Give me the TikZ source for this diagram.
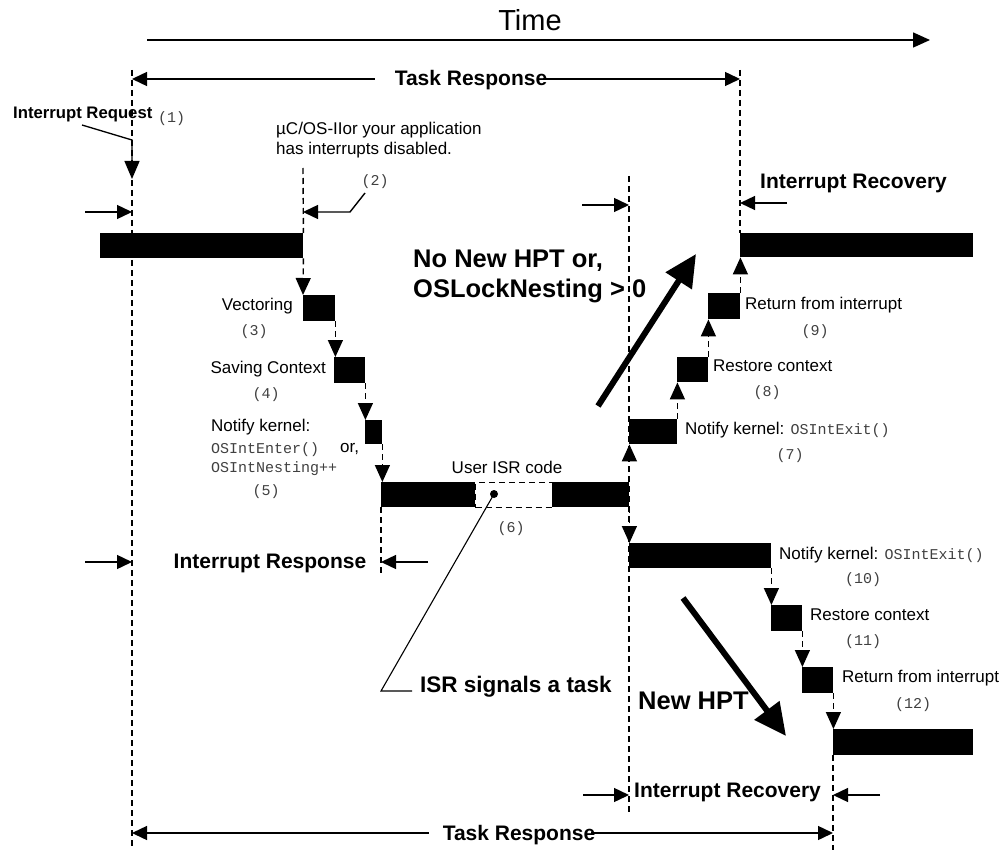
\documentclass[tikz,border=0pt]{standalone}
\usepackage{fontspec}
\setmainfont{Liberation Sans}
\setmonofont{Liberation Mono}
\usetikzlibrary{arrows.meta}

\begin{document}
\begin{tikzpicture}[x=1pt,y=-1pt,
  blk/.style={fill=black, draw=none, inner sep=0pt, anchor=north west},
  guide/.style={line width=1.4pt, dash pattern=on 6pt off 4pt},
  flow/.style={line width=1.4pt, dash pattern=on 6pt off 4pt, -{Triangle[length=17pt,width=15pt]}},
  dim/.style={line width=1.4pt, -{Triangle[length=15pt,width=14pt]}},
  big/.style={line width=6pt, -{Triangle[length=32pt,width=30pt]}},
  lead/.style={line width=1.1pt},
  lbl/.style={inner sep=0pt, font=\fontsize{17}{20}\selectfont},
  num/.style={inner sep=0pt, font=\fontsize{15}{18}\selectfont\ttfamily, text=black!75},
  hd/.style={inner sep=0pt, font=\fontsize{21}{24}\selectfont\bfseries},
  huge/.style={inner sep=0pt, font=\fontsize{25.5}{30}\selectfont\bfseries},
]
\useasboundingbox (0,0) rectangle (1003,850);

% ---------- time axis ----------
\node[inner sep=0pt, font=\fontsize{29}{32}\selectfont] (time) at (530,20) {Time};
\coordinate (t0) at (147,40);
\coordinate (t1) at (930,40);
\draw[line width=1.5pt, -{Triangle[length=17pt,width=15pt]}] (t0) -- (t1);

% ---------- vertical guides ----------
\coordinate (g1t) at (132,70);  \coordinate (g1b) at (132,850);
\coordinate (g2t) at (303,168);
\coordinate (g3t) at (740,70);
\coordinate (g4t) at (629,176); \coordinate (g4b) at (629,812);
\coordinate (g5b) at (381,577);
\coordinate (g6b) at (833,850);

% ---------- execution blocks ----------
\node[blk, minimum width=203pt, minimum height=25pt] (A) at (100,233) {};
\node[blk, minimum width=32pt, minimum height=26pt] (vec) at (303,295) {};
\node[blk, minimum width=31pt, minimum height=26pt] (sav) at (334,357) {};
\node[blk, minimum width=17pt, minimum height=24pt] (ntf) at (365,420) {};
\node[blk, minimum width=94pt, minimum height=25pt] (isr1) at (381,482) {};
\node[guide, draw, inner sep=0pt, anchor=north west, minimum width=77pt, minimum height=25pt] (isrd) at (475,482) {};
\node[blk, minimum width=77pt, minimum height=25pt] (isr2) at (552,482) {};

\node[blk, minimum width=48pt, minimum height=25pt] (ntf7) at (629,419) {};
\node[blk, minimum width=31pt, minimum height=25pt] (rst8) at (677,357) {};
\node[blk, minimum width=32pt, minimum height=26pt] (ret9) at (708,293) {};
\node[blk, minimum width=233pt, minimum height=24pt] (B) at (740,233) {};

\node[blk, minimum width=142pt, minimum height=25pt] (bar10) at (629,543) {};
\node[blk, minimum width=31pt, minimum height=26pt] (rst11) at (771,605) {};
\node[blk, minimum width=31pt, minimum height=26pt] (ret12) at (802,667) {};
\node[blk, minimum width=140pt, minimum height=26pt] (C) at (833,729) {};

% guides
\draw[guide] (g1t) -- (g1b);
\draw[guide] (g2t) -- (A.north east);
\draw[guide] (g3t) -- (B.north west);
\draw[guide] (g4t) -- (g4b);
\draw[guide] (isr1.south west) -- (g5b);
\draw[guide] (C.south west) -- (g6b);

% ---------- flow arrows ----------
\draw[flow] (A.south east) -- (vec.north west);
\draw[flow] (vec.south east) -- (vec.south east |- sav.north);
\draw[flow] (sav.south east) -- (sav.south east |- ntf.north);
\draw[flow] (ntf.south east) -- (ntf.south east |- isr1.north);

\draw[flow] (isr2.north east) -- (isr2.north east |- ntf7.south);
\draw[flow] (ntf7.north east) -- (ntf7.north east |- rst8.south);
\draw[flow] (rst8.north east) -- (rst8.north east |- ret9.south);
\draw[flow] (ret9.north east) -- (ret9.north east |- B.south);

\draw[flow] (isr2.south east) -- (isr2.south east |- bar10.north);
\draw[flow] (bar10.south east) -- (bar10.south east |- rst11.north);
\draw[flow] (rst11.south east) -- (rst11.south east |- ret12.north);
\draw[flow] (ret12.south east) -- (ret12.south east |- C.north);

% ---------- task response (top) ----------
\node[hd] (trtop) at (471,80) {Task Response};
\draw[dim] (trtop.west) ++(-20,-1) coordinate (trtl) -- (trtl -| g1t);
\draw[dim] (trtop.east) ++(-4,-1) coordinate (trtr) -- (trtr -| g3t);

% ---------- interrupt request ----------
\node[hd, font=\fontsize{16.7}{20}\selectfont\bfseries, anchor=mid west] (irq) at (13,116) {Interrupt Request};
\node[num, anchor=mid west] (n1) at (158,120) {(1)};
\coordinate (irqa) at (82,125);
\coordinate (irqb) at (132,140);
\coordinate (irqc) at (132,179);
\draw[lead, line width=1.3pt, -{Triangle[length=18pt,width=15pt]}] (irqa) -- (irqb) -- (irqc);

\coordinate (dl1) at (85,212);
\draw[dim] (dl1) -- (dl1 -| g1t);

\node[lbl, anchor=mid west] (dis1) at (276,132) {µC/OS-IIor your application};
\node[lbl, anchor=mid west] (dis2) at (276,152) {has interrupts disabled.};
\node[num] (n2) at (375,182) {(2)};
\coordinate (l2a) at (365,193);
\coordinate (l2b) at (350,212);
\draw[lead, line width=1.4pt, -{Triangle[length=15pt,width=14pt]}] (l2a) -- (l2b) -- (l2b -| g2t);

% ---------- left-hand step labels ----------
\node[lbl, anchor=mid east] (lvec) at (293,308) {Vectoring};
\node[num] (n3) at (254,332) {(3)};
\node[lbl, anchor=mid east] (lsav) at (326,371) {Saving Context};
\node[num] (n4) at (266,395) {(4)};
\node[lbl, anchor=mid west] (lntf) at (211,429) {Notify kernel:};
\node[num, anchor=mid west] (lent) at (211,451) {OSIntEnter()};
\node[lbl, anchor=mid west] (lor) at (340,450) {or,};
\node[num, anchor=mid west] (lnest) at (211,470) {OSIntNesting++};
\node[num] (n5) at (266,492) {(5)};

% ---------- user ISR ----------
\node[lbl] (luser) at (507,467) {User ISR code};
\node[num] (n6) at (511,529) {(6)};
\fill (494,494) circle (4pt) coordinate (sig);
\coordinate (siga) at (381,691);
\coordinate (sigb) at (412,691);
\draw[lead] (sig) -- (siga) -- (sigb);
\node[hd, font=\fontsize{22.5}{26}\selectfont\bfseries, anchor=mid west] (lsig) at (420,690) {ISR signals a task};

% ---------- interrupt response ----------
\node[hd] (iresp) at (270,563) {Interrupt Response};
\coordinate (irl) at (85,562);
\coordinate (irr) at (428,562);
\draw[dim] (irl) -- (irl -| g1t);
\draw[dim] (irr) -- (irr -| g5b);

% ---------- no new HPT path ----------
\node[huge, anchor=mid west] (nohpt1) at (413,265) {No New HPT or,};
\node[huge, anchor=mid west] (nohpt2) at (413,295) {OSLockNesting > 0};
\coordinate (bu0) at (598,406);
\coordinate (bu1) at (696,254);
\draw[big] (bu0) -- (bu1);

\node[lbl, anchor=mid west] (l7) at (685,432) {Notify kernel: \texttt{\color{black!75}\fontsize{15}{18}\selectfont OSIntExit()}};
\node[num] (n7) at (790,456) {(7)};
\node[lbl, anchor=mid west] (l8) at (713,369) {Restore context};
\node[num] (n8) at (767,393) {(8)};
\node[lbl, anchor=mid west] (l9) at (745,307) {Return from interrupt};
\node[num] (n9) at (815,332) {(9)};

\node[hd, anchor=mid west] (irec1) at (760,186) {Interrupt Recovery};
\coordinate (ra1) at (582,205);
\coordinate (ra2) at (787,203);
\draw[dim] (ra1) -- (ra1 -| g4t);
\draw[dim] (ra2) -- (ra2 -| g3t);

% ---------- new HPT path ----------
\node[huge, anchor=mid west] (nhpt) at (638,707) {New HPT};
\coordinate (bd0) at (683,598);
\coordinate (bd1) at (786,736);
\draw[big] (bd0) -- (bd1);

\node[lbl, anchor=mid west] (l10) at (779,557) {Notify kernel: \texttt{\color{black!75}\fontsize{15}{18}\selectfont OSIntExit()}};
\node[num] (n10) at (863,580) {(10)};
\node[lbl, anchor=mid west] (l11) at (810,618) {Restore context};
\node[num] (n11) at (863,642) {(11)};
\node[lbl, anchor=mid west] (l12) at (842,680) {Return from interrupt};
\node[num] (n12) at (913,705) {(12)};

% ---------- bottom dimensions ----------
\node[hd, anchor=mid west] (irec2) at (634,795) {Interrupt Recovery};
\coordinate (rb1) at (583,795);
\coordinate (rb2) at (880,795);
\draw[dim] (rb1) -- (rb1 -| g4t);
\draw[dim] (rb2) -- (rb2 -| g6b);

\node[hd] (trbot) at (519,835) {Task Response};
\draw[dim] (trbot.west) ++(-14,-2) coordinate (trbl) -- (trbl -| g1t);
\draw[dim] (trbot.east) ++(-4,-2) coordinate (trbr) -- (trbr -| g6b);
\end{tikzpicture}
\end{document}
